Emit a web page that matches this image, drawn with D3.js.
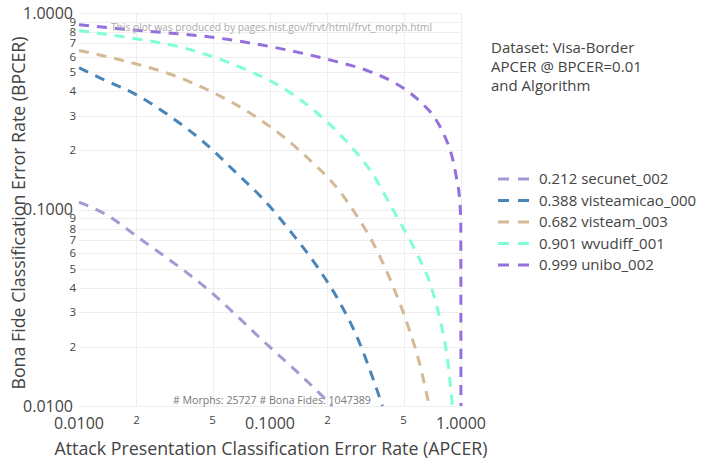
<!DOCTYPE html>
<meta charset="utf-8">
<style>
body { margin: 0; background: #fff; }
svg { font-family: "Open Sans", "DejaVu Sans", sans-serif; }
.grid line { stroke: #eee; stroke-width: 1; shape-rendering: crispEdges; }
.tick-major { fill: #444; font-size: 16px; }
.tick-minor { fill: #444; font-size: 11.5px; }
.axis-title { fill: #444; font-size: 17.8px; }
.legend text { fill: #444; font-size: 15px; }
.curve { fill: none; stroke-width: 3; stroke-dasharray: 10,8; }
</style>
<body>
<script src="https://d3js.org/d3.v7.min.js"></script>
<script>

var width = 705,
    height = 460;

// Algorithms with APCER @ BPCER=0.01
var algorithms = ["secunet_002", "visteamicao_000", "visteam_003", "wvudiff_001", "unibo_002"];
var apcerAt001 = [0.212, 0.388, 0.682, 0.901, 0.999];
var colors = ["#a09bd3", "#4a85b8", "#d4b996", "#7fffd4", "#9370db"];

// DET curves: [APCER, BPCER]
var secunet = [[0.01, 0.109], [0.0139, 0.0941], [0.0205, 0.0719], [0.0474, 0.0391],
  [0.1006, 0.0198], [0.1432, 0.0145], [0.212, 0.01]];
var visteamicao = [[0.01, 0.526], [0.01285, 0.468], [0.02, 0.383], [0.0309, 0.292],
  [0.0456, 0.2178], [0.0662, 0.1544], [0.0917, 0.1134], [0.1296, 0.0762],
  [0.178, 0.0506], [0.232, 0.0336], [0.2893, 0.0218], [0.3441, 0.014], [0.388, 0.01]];
var visteam = [[0.01, 0.645], [0.0192, 0.5557], [0.0318, 0.4788], [0.0504, 0.3938],
  [0.0777, 0.3117], [0.1171, 0.2352], [0.1716, 0.169], [0.21, 0.139],
  [0.278, 0.0963], [0.3611, 0.0625], [0.4411, 0.0406], [0.5284, 0.0255],
  [0.6084, 0.0163], [0.682, 0.01]];
var wvudiff = [[0.01, 0.814], [0.0216, 0.73], [0.0287, 0.6965], [0.0469, 0.6124],
  [0.0738, 0.5179], [0.1171, 0.4147], [0.1752, 0.3117], [0.2515, 0.2219],
  [0.3466, 0.1503], [0.4502, 0.096], [0.5731, 0.0625], [0.7007, 0.0399],
  [0.7905, 0.0255], [0.8561, 0.0163], [0.901, 0.01]];
var unibo = [[0.01, 0.872], [0.0208, 0.814], [0.0467, 0.7586], [0.0998, 0.675],
  [0.2056, 0.5774], [0.333, 0.5036], [0.4239, 0.455], [0.5203, 0.4034],
  [0.6209, 0.3491], [0.729, 0.2929], [0.8226, 0.2352], [0.892, 0.19],
  [0.9471, 0.1446], [0.9856, 0.1099], [0.9977, 0.0857], [0.9986, 0.03],
  [0.999, 0.01]];
var curves = [secunet, visteamicao, visteam, wvudiff, unibo];

var majorTicks = [0.01, 0.1, 1];
var minorTicks = [2, 3, 4, 5, 6, 7, 8, 9];
var xMinorLabels = [2, 5];
var legendTitle = ["Dataset: Visa-Border", "APCER @ BPCER=0.01", "and Algorithm"];
var noteTop = "This plot was produced by pages.nist.gov/frvt/html/frvt_morph.html";
var noteBottom = "# Morphs: 25727 # Bona Fides: 1047389";

var x = d3.scaleLog().domain([0.01, 1]).range([79, 461]);
var y = d3.scaleLog().domain([0.01, 1]).range([406, 13]);

var svg = d3.select("body").append("svg")
    .attr("width", width)
    .attr("height", height);

// minor values in each decade
var yMinor = [], xMinor = [];
[0.01, 0.1].forEach(function(d) {
  minorTicks.forEach(function(m) { yMinor.push(d * m); });
  xMinorLabels.forEach(function(m) { xMinor.push(d * m); });
});

function digit(d) {
  return Math.round(d / Math.pow(10, Math.floor(Math.log10(d) + 1e-9)));
}

var grid = svg.append("g").attr("class", "grid");
grid.selectAll("line.h")
    .data(majorTicks.concat(yMinor))
  .enter().append("line")
    .attr("x1", x.range()[0]).attr("x2", x.range()[1])
    .attr("y1", function(d) { return Math.round(y(d)) + 0.5; })
    .attr("y2", function(d) { return Math.round(y(d)) + 0.5; });
grid.selectAll("line.v")
    .data(xMinor.concat([0.1, 1]))
  .enter().append("line")
    .attr("y1", y.range()[0]).attr("y2", y.range()[1])
    .attr("x1", function(d) { return Math.round(x(d)) + 0.5; })
    .attr("x2", function(d) { return Math.round(x(d)) + 0.5; });

// y tick labels
svg.selectAll("text.ymaj")
    .data(majorTicks)
  .enter().append("text")
    .attr("class", "tick-major")
    .attr("x", 73)
    .attr("y", function(d) { return y(d) + 5.5; })
    .attr("text-anchor", "end")
    .text(function(d) { return d.toFixed(4); });
svg.selectAll("text.ymin")
    .data(yMinor)
  .enter().append("text")
    .attr("class", "tick-minor")
    .attr("x", 76)
    .attr("y", function(d) { return y(d) + 4; })
    .attr("text-anchor", "end")
    .text(digit);

// x tick labels
svg.selectAll("text.xmaj")
    .data(majorTicks)
  .enter().append("text")
    .attr("class", "tick-major")
    .attr("x", function(d) { return x(d); })
    .attr("y", 429)
    .attr("text-anchor", "middle")
    .text(function(d) { return d.toFixed(4); });
svg.selectAll("text.xmin")
    .data(xMinor)
  .enter().append("text")
    .attr("class", "tick-minor")
    .attr("x", function(d) { return x(d); })
    .attr("y", 424)
    .attr("text-anchor", "middle")
    .text(digit);

// axis titles
svg.append("text")
    .attr("class", "axis-title")
    .attr("x", 271)
    .attr("y", 455)
    .attr("text-anchor", "middle")
    .text("Attack Presentation Classification Error Rate (APCER)");
svg.append("text")
    .attr("class", "axis-title")
    .attr("transform", "translate(25,213) rotate(-90)")
    .attr("text-anchor", "middle")
    .text("Bona Fide Classification Error Rate (BPCER)");

// curves
var line = d3.line()
    .x(function(d) { return x(d[0]); })
    .y(function(d) { return y(d[1]); })
    .curve(d3.curveMonotoneX);

svg.append("g")
  .selectAll("path")
    .data(curves)
  .enter().append("path")
    .attr("class", "curve")
    .attr("stroke", function(d, i) { return colors[i]; })
    .attr("d", line);

// notes
svg.append("text")
    .attr("x", 111)
    .attr("y", 31)
    .attr("fill", "#aaa")
    .attr("font-size", "10.2px")
    .text(noteTop);
svg.append("text")
    .attr("x", 173)
    .attr("y", 404)
    .attr("fill", "#777")
    .attr("font-size", "10.6px")
    .text(noteBottom);

// legend
var legend = svg.append("g").attr("class", "legend");
legend.selectAll("text.title")
    .data(legendTitle)
  .enter().append("text")
    .attr("x", 491)
    .attr("y", function(d, i) { return 53 + i * 19; })
    .text(function(d) { return d; });

var items = legend.selectAll("g.item")
    .data(algorithms)
  .enter().append("g")
    .attr("transform", function(d, i) { return "translate(498," + (179 + i * 21.5) + ")"; });
items.append("line")
    .attr("x1", 0).attr("x2", 32)
    .attr("stroke", function(d, i) { return colors[i]; })
    .attr("stroke-width", 3)
    .attr("stroke-dasharray", "11,9");
items.append("text")
    .attr("x", 41)
    .attr("y", 5)
    .text(function(d, i) { return apcerAt001[i].toFixed(3) + " " + d; });

</script>
